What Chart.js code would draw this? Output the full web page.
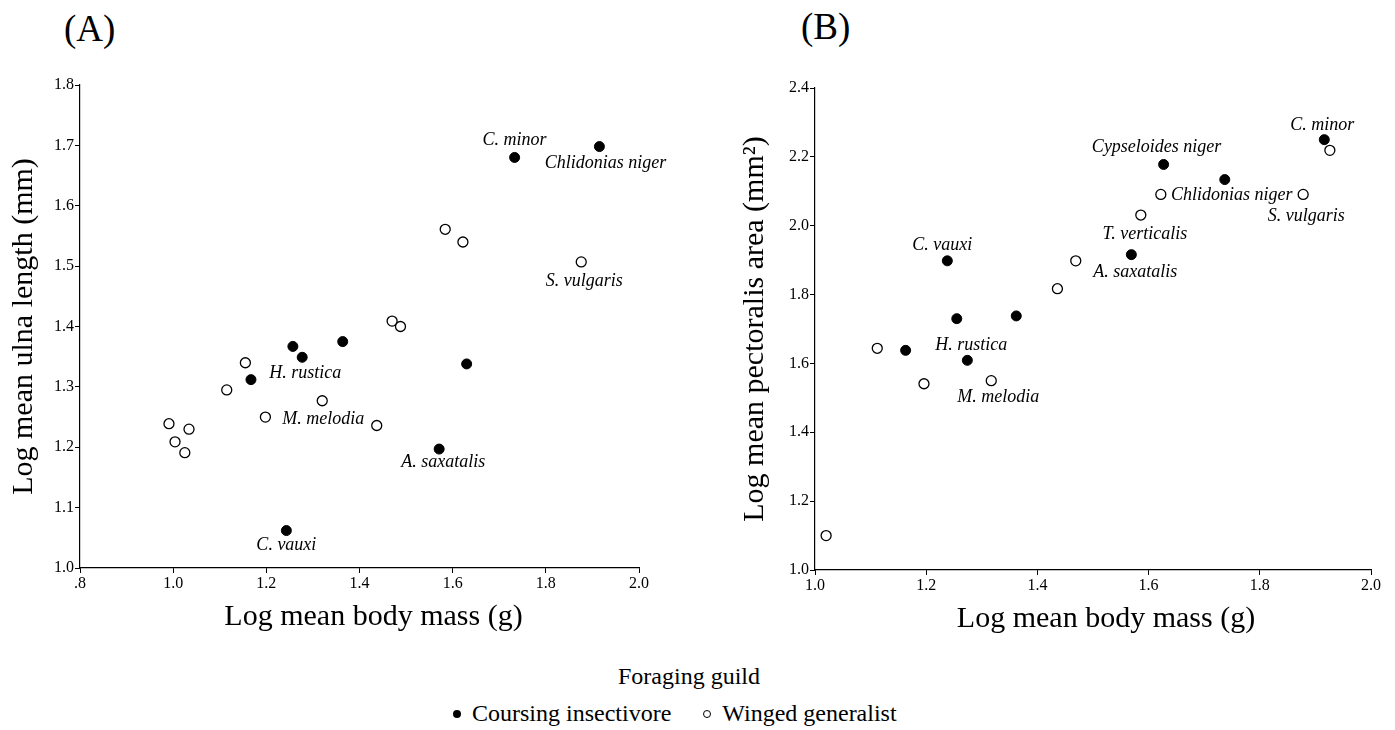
<!DOCTYPE html>
<html>
<head>
<meta charset="utf-8">
<script src="https://cdn.jsdelivr.net/npm/chart.js@4"></script>
<style>
  body { margin: 0; background: #fff; width: 1395px; height: 730px; position: relative; overflow: hidden; font-family: "Liberation Serif", "Times New Roman", serif; color: #000; }
  .panel { position: absolute; top: 0; }
  .tag { position: absolute; font-size: 37px; line-height: 1; }
  .leg { position: absolute; font-size: 24px; white-space: nowrap; }
  .row { display: flex; align-items: center; }
  .dot { display: inline-block; width: 8px; height: 8px; border-radius: 50%; margin-right: 11px; box-sizing: border-box; }
  .dot.f { background: #000; }
  .dot.o { border: 1px solid #000; }
</style>
</head>
<body>
<div class="tag" style="left:64px; top:10px;">(A)</div>
<div class="tag" style="left:801px; top:8px;">(B)</div>
<div class="panel" style="left:0px;"><canvas id="chartA" width="700" height="650"></canvas></div>
<div class="panel" style="left:700px;"><canvas id="chartB" width="695" height="650"></canvas></div>
<div class="leg" style="left:618px; top:663px;">Foraging guild</div>
<div class="leg row" style="left:453px; top:700px;">
  <span class="dot f"></span><span>Coursing insectivore</span>
  <span style="width:32px"></span>
  <span class="dot o"></span><span>Winged generalist</span>
</div>
<script>
// (A) log mean ulna length vs log mean body mass
const massA_coursing = [1.733, 1.915, 1.257, 1.277, 1.364, 1.167, 1.630, 1.571, 1.243]
const ulnaA_coursing = [1.680, 1.698, 1.367, 1.349, 1.375, 1.312, 1.338, 1.197, 1.062]
const massA_winged = [0.991, 1.004, 1.034, 1.025, 1.115, 1.155, 1.198, 1.320, 1.437, 1.470, 1.488, 1.584, 1.622, 1.876]
const ulnaA_winged = [1.239, 1.209, 1.230, 1.191, 1.295, 1.340, 1.250, 1.277, 1.236, 1.409, 1.400, 1.561, 1.540, 1.507]

// (B) log mean pectoralis area vs log mean body mass
const massB_coursing = [1.916, 1.737, 1.627, 1.569, 1.238, 1.255, 1.362, 1.163, 1.274]
const pectB_coursing = [2.250, 2.134, 2.178, 1.916, 1.898, 1.730, 1.738, 1.638, 1.609]
const massB_winged = [1.926, 1.878, 1.622, 1.586, 1.469, 1.436, 1.112, 1.196, 1.317, 1.020]
const pectB_winged = [2.219, 2.091, 2.091, 2.031, 1.898, 1.817, 1.644, 1.541, 1.550, 1.100]

// tick labels
const xTicksA = ['.8', '1.0', '1.2', '1.4', '1.6', '1.8', '2.0']
const yTicksA = ['1.0', '1.1', '1.2', '1.3', '1.4', '1.5', '1.6', '1.7', '1.8']
const xTicksB = ['1.0', '1.2', '1.4', '1.6', '1.8', '2.0']
const yTicksB = ['1.0', '1.2', '1.4', '1.6', '1.8', '2.0', '2.2', '2.4']

// species names, attached to a point of a dataset (0 = coursing, 1 = winged)
const namesA = [
  { ds: 0, i: 0, text: 'C. minor', dx: 0, dy: -17 },
  { ds: 0, i: 1, text: 'Chlidonias niger', dx: 6, dy: 17 },
  { ds: 1, i: 13, text: 'S. vulgaris', dx: 3, dy: 19 },
  { ds: 0, i: 3, text: 'H. rustica', dx: 3, dy: 16 },
  { ds: 1, i: 7, text: 'M. melodia', dx: 1, dy: 19 },
  { ds: 0, i: 7, text: 'A. saxatalis', dx: 4, dy: 13 },
  { ds: 0, i: 8, text: 'C. vauxi', dx: 0, dy: 15 }
]
const namesB = [
  { ds: 0, i: 0, text: 'C. minor', dx: -2, dy: -14 },
  { ds: 0, i: 2, text: 'Cypseloides niger', dx: -7, dy: -17 },
  { ds: 0, i: 1, text: 'Chlidonias niger', dx: 7, dy: 16 },
  { ds: 1, i: 1, text: 'S. vulgaris', dx: 3, dy: 22 },
  { ds: 1, i: 3, text: 'T. verticalis', dx: 4, dy: 19 },
  { ds: 0, i: 3, text: 'A. saxatalis', dx: 4, dy: 18 },
  { ds: 0, i: 4, text: 'C. vauxi', dx: -5, dy: -16 },
  { ds: 0, i: 8, text: 'H. rustica', dx: 4, dy: -15 },
  { ds: 1, i: 8, text: 'M. melodia', dx: 7, dy: 17 }
]

const serif = '"Liberation Serif", "Times New Roman", serif'

// italic species names next to their points
const speciesNames = {
  id: 'speciesNames',
  afterDatasetsDraw(chart, args, opts) {
    const ctx = chart.ctx
    ctx.save()
    ctx.font = 'italic 18px ' + serif
    ctx.fillStyle = '#000'
    ctx.textAlign = 'center'
    ctx.textBaseline = 'middle'
    opts.items.forEach(function (n) {
      const pt = chart.getDatasetMeta(n.ds).data[n.i]
      ctx.fillText(n.text, pt.x + n.dx, pt.y + n.dy)
    })
    ctx.restore()
  }
}

// x axis title, sits a little right of the axis centre in the original
const xTitle = {
  id: 'xTitle',
  afterDraw(chart, args, opts) {
    const ctx = chart.ctx
    const a = chart.chartArea
    ctx.save()
    ctx.font = '30px ' + serif
    ctx.fillStyle = '#000'
    ctx.textAlign = 'center'
    ctx.textBaseline = 'middle'
    ctx.fillText(opts.text, (a.left + a.right) / 2 + opts.dx, a.bottom + opts.dy)
    ctx.restore()
  }
}

function pts(xs, ys) {
  return xs.map((x, i) => ({ x: x, y: ys[i] }))
}

function axis(min, max, step, labels, fit) {
  return {
    type: 'linear',
    min: min,
    max: max,
    ticks: {
      stepSize: step,
      color: '#000',
      font: { family: serif, size: 16 },
      padding: 1,
      maxRotation: 0,
      autoSkip: false,
      callback: (v, i) => labels[i]
    },
    grid: { display: true, drawOnChartArea: false, drawTicks: true, tickLength: 5, color: '#000', lineWidth: 1 },
    border: { display: true, color: '#000', width: 1.2 },
    afterFit: fit
  }
}

function makeChart(id, coursing, winged, xs, ys, names, pad, yWidth, xHeight, yTitlePad, xTitleDx) {
  let yAxis = axis(ys.min, ys.max, ys.step, ys.labels, s => { s.width = yWidth })
  yAxis.title = { display: true, text: ys.title, color: '#000', font: { family: serif, size: 30 }, padding: { top: yTitlePad, bottom: 0 } }
  return new Chart(document.getElementById(id), {
    type: 'scatter',
    data: {
      datasets: [{
        label: 'Coursing insectivore',
        data: coursing,
        pointRadius: 5,
        pointHoverRadius: 5,
        backgroundColor: '#000',
        borderColor: '#000',
        borderWidth: 1
      }, {
        label: 'Winged generalist',
        data: winged,
        pointRadius: 5,
        pointHoverRadius: 5,
        backgroundColor: '#fff',
        borderColor: '#000',
        borderWidth: 1.3
      }]
    },
    options: {
      responsive: false,
      animation: false,
      layout: { padding: pad },
      plugins: {
        legend: { display: false },
        tooltip: { enabled: false },
        speciesNames: { items: names },
        xTitle: { text: 'Log mean body mass (g)', dx: xTitleDx, dy: 49 }
      },
      scales: {
        x: axis(xs.min, xs.max, xs.step, xs.labels, s => { s.height = xHeight }),
        y: yAxis
      }
    },
    plugins: [speciesNames, xTitle]
  })
}

let chartA = makeChart('chartA',
  pts(massA_coursing, ulnaA_coursing), pts(massA_winged, ulnaA_winged),
  { min: 0.8, max: 2.0, step: 0.2, labels: xTicksA },
  { min: 1.0, max: 1.8, step: 0.1, labels: yTicksA, title: 'Log mean ulna length (mm)' },
  namesA, { top: 85, right: 61, left: 0, bottom: 0 }, 80, 82, 6, 14)

let chartB = makeChart('chartB',
  pts(massB_coursing, pectB_coursing), pts(massB_winged, pectB_winged),
  { min: 1.0, max: 2.0, step: 0.2, labels: xTicksB },
  { min: 1.0, max: 2.4, step: 0.2, labels: yTicksB, title: 'Log mean pectoralis area (mm\u00B2)' },
  namesB, { top: 88, right: 24, left: 0, bottom: 0 }, 115, 80, 37, 13)
</script>
</body>
</html>
